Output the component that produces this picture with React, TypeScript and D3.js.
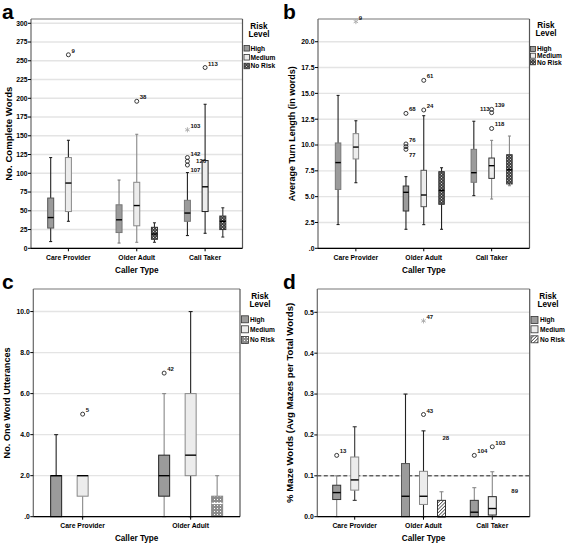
import React from "react";
import * as d3 from "d3";

// ---------- DATA ----------
const risks = ["High", "Medium", "No Risk"];
const categoriesABD = ["Care Provider", "Older Adult", "Call Taker"];
const categoriesC = ["Care Provider", "Older Adult"];

// box stats: cat, risk, lo (whisker), q1, median, q3, hi (whisker)
const boxesA = [
  { cat: "Care Provider", risk: "High", lo: 9, q1: 27, med: 41, q3: 67, hi: 121 },
  { cat: "Care Provider", risk: "Medium", lo: 36, q1: 49, med: 87, q3: 121, hi: 144 },
  { cat: "Older Adult", risk: "High", lo: 7, q1: 21, med: 38, q3: 58, hi: 91 },
  { cat: "Older Adult", risk: "Medium", lo: 8, q1: 30, med: 57, q3: 88, hi: 152 },
  { cat: "Older Adult", risk: "No Risk", lo: 8, q1: 12, med: 19, q3: 28, hi: 34 },
  { cat: "Call Taker", risk: "High", lo: 17, q1: 36, med: 47, q3: 64, hi: 101 },
  { cat: "Call Taker", risk: "Medium", lo: 20, q1: 49, med: 82, q3: 117, hi: 192 },
  { cat: "Call Taker", risk: "No Risk", lo: 15, q1: 25, med: 36, q3: 43, hi: 54 },
];
const outliersA = [
  { cat: "Care Provider", risk: "Medium", v: 258, label: "9", kind: "circle" },
  { cat: "Older Adult", risk: "Medium", v: 196, label: "38", kind: "circle" },
  { cat: "Call Taker", risk: "High", v: 158, label: "103", kind: "star" },
  { cat: "Call Taker", risk: "High", v: 121, label: "142", kind: "circle" },
  { cat: "Call Taker", risk: "High", v: 116, label: "", kind: "circle" },
  { cat: "Call Taker", risk: "High", v: 111, label: "107", kind: "circle" },
  { cat: "Call Taker", risk: "Medium", v: 117, label: "126", kind: "none" },
  { cat: "Call Taker", risk: "Medium", v: 241, label: "113", kind: "circle" },
];
const yTicksA = [0, 25, 50, 75, 100, 125, 150, 175, 200, 225, 250, 275, 300];

const boxesB = [
  { cat: "Care Provider", risk: "High", lo: 2.3, q1: 5.7, med: 8.3, q3: 10.2, hi: 14.8 },
  { cat: "Care Provider", risk: "Medium", lo: 6.35, q1: 8.65, med: 9.8, q3: 11.1, hi: 12.35 },
  { cat: "Older Adult", risk: "High", lo: 1.84, q1: 3.61, med: 5.42, q3: 6.03, hi: 6.94 },
  { cat: "Older Adult", risk: "Medium", lo: 2.29, q1: 4.03, med: 5.16, q3: 7.55, hi: 12.84 },
  { cat: "Older Adult", risk: "No Risk", lo: 1.84, q1: 4.26, med: 5.6, q3: 7.42, hi: 7.8 },
  { cat: "Call Taker", risk: "High", lo: 5.1, q1: 6.39, med: 7.32, q3: 9.58, hi: 12.3 },
  { cat: "Call Taker", risk: "Medium", lo: 4.77, q1: 6.77, med: 8.0, q3: 8.74, hi: 10.45 },
  { cat: "Call Taker", risk: "No Risk", lo: 6.06, q1: 6.23, med: 7.6, q3: 9.06, hi: 10.87 },
];
const outliersB = [
  { cat: "Care Provider", risk: "Medium", v: 21.95, label: "9", kind: "star" },
  { cat: "Older Adult", risk: "High", v: 13.06, label: "68", kind: "circle" },
  { cat: "Older Adult", risk: "High", v: 10.1, label: "76", kind: "circle" },
  { cat: "Older Adult", risk: "High", v: 9.84, label: "", kind: "circle" },
  { cat: "Older Adult", risk: "High", v: 9.58, label: "77", kind: "circle" },
  { cat: "Older Adult", risk: "Medium", v: 16.26, label: "61", kind: "circle" },
  { cat: "Older Adult", risk: "Medium", v: 13.39, label: "24", kind: "circle" },
  { cat: "Call Taker", risk: "Medium", v: 13.45, label: "139", kind: "circle" },
  { cat: "Call Taker", risk: "Medium", v: 13.13, label: "113", kind: "circle" },
  { cat: "Call Taker", risk: "Medium", v: 11.6, label: "118", kind: "circle" },
];
const yTicksB = [0, 2.5, 5, 7.5, 10, 12.5, 15, 17.5, 20];

const boxesC = [
  { cat: "Care Provider", risk: "High", lo: 0, q1: 0, med: 2, q3: 2, hi: 4 },
  { cat: "Care Provider", risk: "Medium", lo: 0, q1: 1, med: 2, q3: 2, hi: 2 },
  { cat: "Older Adult", risk: "High", lo: 0, q1: 1, med: 2, q3: 3, hi: 6 },
  { cat: "Older Adult", risk: "Medium", lo: 0, q1: 2, med: 3, q3: 6, hi: 10 },
  { cat: "Older Adult", risk: "No Risk", lo: 0, q1: 0, med: 0.65, q3: 1, hi: 2 },
];
const outliersC = [
  { cat: "Care Provider", risk: "Medium", v: 5, label: "5", kind: "circle" },
  { cat: "Older Adult", risk: "High", v: 7, label: "42", kind: "circle" },
];
const yTicksC = [0, 2, 4, 6, 8, 10];

const boxesD = [
  { cat: "Care Provider", risk: "High", lo: 0, q1: 0.042, med: 0.059, q3: 0.077, hi: 0.1 },
  { cat: "Care Provider", risk: "Medium", lo: 0.04, q1: 0.065, med: 0.09, q3: 0.146, hi: 0.22 },
  { cat: "Older Adult", risk: "High", lo: 0, q1: 0, med: 0.05, q3: 0.13, hi: 0.3 },
  { cat: "Older Adult", risk: "Medium", lo: 0, q1: 0.03, med: 0.05, q3: 0.111, hi: 0.21 },
  { cat: "Older Adult", risk: "No Risk", lo: 0, q1: 0, med: 0, q3: 0.04, hi: 0.061 },
  { cat: "Call Taker", risk: "High", lo: 0, q1: 0, med: 0.011, q3: 0.04, hi: 0.071 },
  { cat: "Call Taker", risk: "Medium", lo: 0, q1: 0.004, med: 0.02, q3: 0.049, hi: 0.11 },
];
const outliersD = [
  { cat: "Care Provider", risk: "High", v: 0.15, label: "13", kind: "circle" },
  { cat: "Older Adult", risk: "Medium", v: 0.25, label: "43", kind: "circle" },
  { cat: "Older Adult", risk: "Medium", v: 0.479, label: "47", kind: "star" },
  { cat: "Older Adult", risk: "No Risk", v: 0.193, label: "28", kind: "none" },
  { cat: "Call Taker", risk: "High", v: 0.15, label: "104", kind: "circle" },
  { cat: "Call Taker", risk: "Medium", v: 0.171, label: "103", kind: "circle" },
  { cat: "Call Taker", risk: "No Risk", v: 0.063, label: "89", kind: "none" },
];
const yTicksD = [0, 0.1, 0.2, 0.3, 0.4, 0.5];
const refLineD = 0.1;

// ---------- STYLE / LAYOUT ----------
const FONT = "'Liberation Sans', Arial, Helvetica, sans-serif";

const boxStrokeA = ["#555", "#888", "#777", "#888", "#333", "#777", "#222", "#333"];
const whiskStrokeA = ["#222", "#222", "#777", "#888", "#333", "#222", "#222", "#333"];
const boxStrokeB = ["#777", "#888", "#333", "#555", "#333", "#777", "#333", "#333"];
const whiskStrokeB = ["#222", "#222", "#222", "#222", "#222", "#222", "#888", "#888"];
const boxStrokeC = ["#222", "#888", "#222", "#888", "#888"];
const whiskStrokeC = ["#222", "#888", "#888", "#222", "#888"];
const boxStrokeD = ["#333", "#888", "#555", "#888", "#333", "#333", "#222"];
const whiskStrokeD = ["#888", "#333", "#222", "#222", "#888", "#888", "#888"];

const panels = [
  {
    letter: "a", letterX: 2, letterY: 19,
    x0: 31, x1: 242.5, y0: 19, y1: 248.3, top: 305.7, pad: 0.547, off: 17.7, boxW: 6, capW: 3,
    cats: categoriesABD, boxes: boxesA, outs: outliersA, ticks: yTicksA,
    fmt: (v: number) => d3.format("d")(v),
    ytitle: "No. Complete Words", ytitleX: 9, ytitleSize: 9.6,
    boxStroke: boxStrokeA, whiskStroke: whiskStrokeA, nr: "url(#chkA)", nrMed: "#000",
    leg: { tx: 259, ty: 29, sqX: 244, sq: 5.5, ys: [48.3, 57.3, 66], textX: 250.5 },
    labelAdj: { "107": [3, 7], "126": [-9, 2] } as Record<string, number[]>,
    ref: null as number | null,
  },
  {
    letter: "b", letterX: 283, letterY: 19,
    x0: 318, x1: 529.5, y0: 19, y1: 248.3, top: 22.2, pad: 0.558, off: 17.8, boxW: 5.5, capW: 3,
    cats: categoriesABD, boxes: boxesB, outs: outliersB, ticks: yTicksB,
    fmt: (v: number) => (v === 0 ? ".0" : d3.format(".1f")(v)),
    ytitle: "Average Turn Length (in words)", ytitleX: 292, ytitleSize: 9,
    boxStroke: boxStrokeB, whiskStroke: whiskStrokeB, nr: "url(#chkA)", nrMed: "#000",
    leg: { tx: 546, ty: 28, sqX: 530.5, sq: 5, ys: [49, 55.7, 62.3], textX: 537 },
    labelAdj: { "77": [3, 8], "113": [-2, -2] } as Record<string, number[]>,
    ref: null as number | null,
  },
  {
    letter: "c", letterX: 2, letterY: 289,
    x0: 33.3, x1: 240, y0: 289, y1: 516.7, top: 11.1, pad: 0.457, off: 26.5, boxW: 11, capW: 4,
    cats: categoriesC, boxes: boxesC, outs: outliersC, ticks: yTicksC,
    fmt: (v: number) => (v === 0 ? ".0" : d3.format(".1f")(v)),
    ytitle: "No. One Word Utterances", ytitleX: 7, ytitleSize: 9.2,
    boxStroke: boxStrokeC, whiskStroke: whiskStrokeC, nr: "url(#dotC)", nrMed: "#fff",
    leg: { tx: 260, ty: 299, sqX: 241.5, sq: 7, ys: [319.3, 329.3, 340], textX: 250 },
    labelAdj: {} as Record<string, number[]>,
    ref: null as number | null,
  },
  {
    letter: "d", letterX: 283, letterY: 289,
    x0: 317.3, x1: 529.7, y0: 289, y1: 516.7, top: 0.557, pad: 0.5436, off: 18, boxW: 8, capW: 4,
    cats: categoriesABD, boxes: boxesD, outs: outliersD, ticks: yTicksD,
    fmt: (v: number) => d3.format(".1f")(v),
    ytitle: "% Maze Words (Avg Mazes per Total Words)", ytitleX: 290, ytitleSize: 9.6,
    boxStroke: boxStrokeD, whiskStroke: whiskStrokeD, nr: "url(#hatchD)", nrMed: "#000",
    leg: { tx: 548, ty: 299, sqX: 531, sq: 7, ys: [320, 329.3, 339.3], textX: 540 },
    labelAdj: { "28": [1, 2], "89": [1, 2] } as Record<string, number[]>,
    ref: refLineD as number | null,
  },
];

const highFill = "#9b9b9b";
const medFill = "#ececec";

function Panel({ p }: { p: (typeof panels)[number] }) {
  const x = d3.scalePoint<string>().domain(p.cats).range([p.x0, p.x1]).padding(p.pad);
  const inner = d3.scalePoint<string>().domain(risks).range([-p.off, p.off]);
  const y = d3.scaleLinear().domain([0, p.top]).range([p.y1, p.y0]);
  const fillFor = (r: string) => (r === "High" ? highFill : r === "Medium" ? medFill : p.nr);
  const star = d3.symbol().type(d3.symbolAsterisk).size(18)() as string;
  const midX = (p.x0 + p.x1) / 2;
  const midY = (p.y0 + p.y1) / 2;
  return (
    <g fontFamily={FONT} fontWeight="bold">
      <text x={p.letterX} y={p.letterY} fontSize={21} fill="#000">{p.letter}</text>
      {/* gridlines */}
      {p.ticks.map((t) => (
        <line key={"g" + t} x1={p.x0} x2={p.x1} y1={y(t)} y2={y(t)} stroke="#e4e4e4" strokeWidth={1.4} />
      ))}
      {/* reference line */}
      {p.ref !== null && (
        <line x1={p.x0} x2={p.x1} y1={y(p.ref)} y2={y(p.ref)} stroke="#222" strokeWidth={1} strokeDasharray="4,2.5" />
      )}
      {/* frame */}
      <line x1={p.x0} x2={p.x1} y1={p.y0} y2={p.y0} stroke="#777" strokeWidth={1.2} />
      <line x1={p.x1} x2={p.x1} y1={p.y0} y2={p.y1} stroke="#555" strokeWidth={1.2} />
      <line x1={p.x0} x2={p.x0} y1={p.y0} y2={p.y1} stroke="#666" strokeWidth={1.2} />
      {/* boxes */}
      {p.boxes.map((b, i) => {
        const cx = (x(b.cat) as number) + (inner(b.risk) as number);
        const w = p.boxW;
        const ws = p.whiskStroke[i];
        return (
          <g key={"b" + i}>
            {b.hi > b.q3 && (
              <>
                <line x1={cx} x2={cx} y1={y(b.hi)} y2={y(b.q3)} stroke={ws} strokeWidth={1.1} />
                <line x1={cx - p.capW / 2} x2={cx + p.capW / 2} y1={y(b.hi)} y2={y(b.hi)} stroke={ws} strokeWidth={1.1} />
              </>
            )}
            {b.lo < b.q1 && (
              <>
                <line x1={cx} x2={cx} y1={y(b.q1)} y2={y(b.lo)} stroke={ws} strokeWidth={1.1} />
                <line x1={cx - p.capW / 2} x2={cx + p.capW / 2} y1={y(b.lo)} y2={y(b.lo)} stroke={ws} strokeWidth={1.1} />
              </>
            )}
            <rect x={cx - w / 2} y={y(b.q3)} width={w} height={y(b.q1) - y(b.q3)} fill={fillFor(b.risk)} stroke={p.boxStroke[i]} strokeWidth={1} />
            <line x1={cx - w / 2} x2={cx + w / 2} y1={y(b.med)} y2={y(b.med)} stroke={b.risk === "No Risk" ? p.nrMed : "#000"} strokeWidth={1.4} />
          </g>
        );
      })}
      {/* outliers */}
      {p.outs.map((o, i) => {
        const cx = (x(o.cat) as number) + (inner(o.risk) as number);
        const cy = y(o.v);
        const adj = p.labelAdj[o.label] || [3, -2];
        const anchor = adj[0] < 0 && o.label === "113" ? "end" : "start";
        return (
          <g key={"o" + i}>
            {o.kind === "circle" && <circle cx={cx} cy={cy} r={2} fill="none" stroke="#222" strokeWidth={0.9} />}
            {o.kind === "star" && <path d={star} transform={`translate(${cx},${cy})`} stroke="#aaa" strokeWidth={0.9} fill="none" />}
            {o.label && (
              <text x={cx + adj[0]} y={cy + adj[1]} fontSize={6} textAnchor={anchor} fill="#111">{o.label}</text>
            )}
          </g>
        );
      })}
      {/* bottom axis */}
      <line x1={p.x0} x2={p.x1} y1={p.y1} y2={p.y1} stroke="#000" strokeWidth={1.2} />
      {p.cats.map((c) => (
        <g key={"c" + c}>
          <line x1={x(c)} x2={x(c)} y1={p.y1} y2={p.y1 + 3} stroke="#000" strokeWidth={1} />
          <text x={x(c)} y={p.y1 + 11.5} fontSize={6.8} textAnchor="middle" fill="#000">{c}</text>
        </g>
      ))}
      <text x={midX} y={p.y1 + 24.5} fontSize={8.2} textAnchor="middle" fill="#000">Caller Type</text>
      {/* left axis ticks */}
      {p.ticks.map((t) => (
        <g key={"t" + t}>
          <line x1={p.x0 - 3} x2={p.x0} y1={y(t)} y2={y(t)} stroke="#000" strokeWidth={1} />
          <text x={p.x0 - 3.5} y={y(t) + 2.4} fontSize={6.8} textAnchor="end" fill="#000">{p.fmt(t)}</text>
        </g>
      ))}
      <text transform={`translate(${p.ytitleX},${midY}) rotate(-90)`} fontSize={p.ytitleSize} textAnchor="middle" dy={3.2} fill="#000">{p.ytitle}</text>
      {/* legend */}
      <text x={p.leg.tx} y={p.leg.ty} fontSize={8.2} textAnchor="middle" fill="#000">Risk</text>
      <text x={p.leg.tx} y={p.leg.ty + 8} fontSize={8.2} textAnchor="middle" fill="#000">Level</text>
      {risks.map((r, i) => (
        <g key={"l" + r}>
          <rect x={p.leg.sqX} y={p.leg.ys[i] - p.leg.sq / 2} width={p.leg.sq} height={p.leg.sq} fill={fillFor(r)} stroke="#333" strokeWidth={0.8} />
          <text x={p.leg.textX} y={p.leg.ys[i] + 2.3} fontSize={6.6} fill="#000">{r}</text>
        </g>
      ))}
    </g>
  );
}

export default function App() {
  return (
    <svg width={567} height={546} style={{ position: "absolute", left: 0, top: 0, background: "#fff" }}>
      <defs>
        <pattern id="chkA" width={3} height={3} patternUnits="userSpaceOnUse">
          <rect width={3} height={3} fill="#404040" />
          <rect x={0} y={0} width={1} height={1} fill="#d8d8d8" />
          <rect x={1.5} y={1.5} width={1} height={1} fill="#bbbbbb" />
        </pattern>
        <pattern id="dotC" width={3} height={3} patternUnits="userSpaceOnUse">
          <rect width={3} height={3} fill="#8c8c8c" />
          <rect x={1} y={1} width={1} height={1} fill="#ffffff" />
        </pattern>
        <pattern id="hatchD" width={2.4} height={2.4} patternUnits="userSpaceOnUse" patternTransform="rotate(45)">
          <rect width={2.4} height={2.4} fill="#ffffff" />
          <line x1={0} y1={0} x2={0} y2={2.4} stroke="#222" strokeWidth={1.3} />
        </pattern>
      </defs>
      <rect width={567} height={546} fill="#fff" />
      {panels.map((p) => (
        <Panel key={p.letter} p={p} />
      ))}
    </svg>
  );
}
